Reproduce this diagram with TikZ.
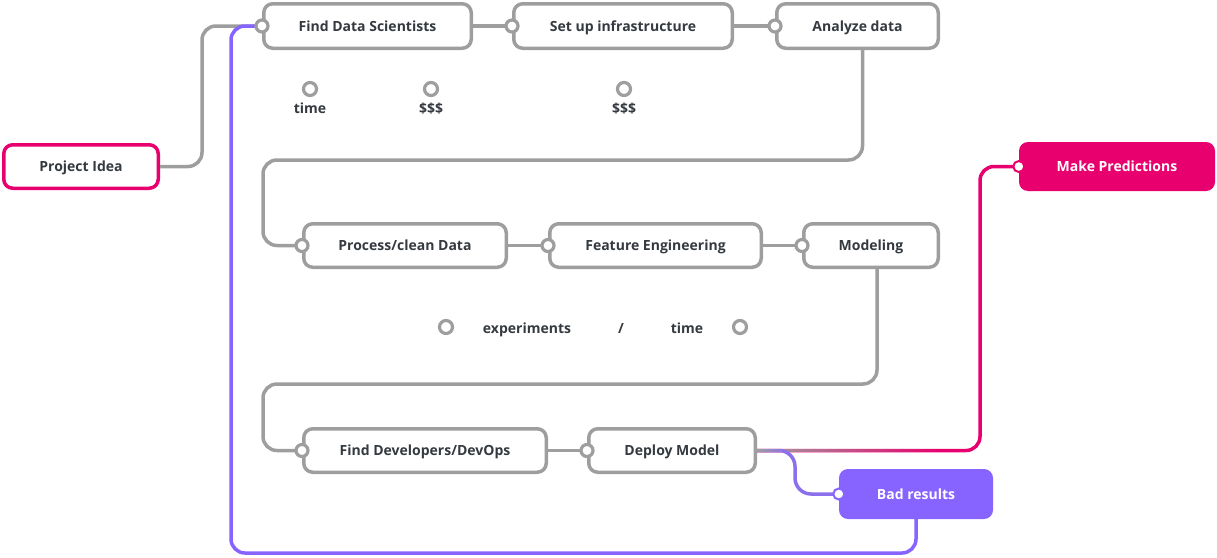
\documentclass[tikz,border=0pt]{standalone}
\usepackage{fontspec}
\setmainfont{Open Sans}
\usetikzlibrary{calc}

\definecolor{linegray}{HTML}{9E9E9E}
\definecolor{ideapink}{HTML}{E8006E}
\definecolor{badpurple}{HTML}{8763FF}
\definecolor{textdark}{HTML}{353A40}

\begin{document}
\begin{tikzpicture}[x=1pt,y=-1pt]
% Box and line styles
\tikzset{
    stepbox/.style={draw=linegray, line width=3.5pt, rounded corners=9pt, fill=white,
        text=textdark, font=\fontsize{14}{16}\selectfont\bfseries, inner sep=0pt,
        text height=10pt, text depth=0pt},
    goalbox/.style={rounded corners=9pt, text=white,
        font=\fontsize{14}{16}\selectfont\bfseries, inner sep=0pt,
        text height=10pt, text depth=0pt},
    link/.style={draw=linegray, line width=3.5pt, rounded corners=14pt},
    port/.style={circle, draw=linegray, fill=white, line width=3.2pt,
        minimum size=12pt, inner sep=0pt},
    goalport/.style={circle, fill=white, line width=2pt, minimum size=11pt, inner sep=0pt},
    cost/.style={text=textdark, font=\fontsize{14}{16}\selectfont\bfseries, inner sep=0pt,
        text height=10pt, text depth=0pt}
}
\useasboundingbox (0,0) rectangle (1217,557);
% Boxes
\node[stepbox, draw=ideapink, minimum width=154.5pt, minimum height=43.5pt] (PI) at (81,166.5){Project Idea};
\node[stepbox, minimum width=207.5pt, minimum height=44.5pt] (FDS) at (367.5,26){Find Data Scientists};
\node[stepbox, minimum width=218.5pt, minimum height=44.5pt] (SUI) at (623,26){Set up infrastructure};
\node[stepbox, minimum width=161.5pt, minimum height=44.5pt] (AD) at (857.5,26){Analyze data};
\node[stepbox, minimum width=202.5pt, minimum height=43.5pt] (PCD) at (405,245.5){Process/clean Data};
\node[stepbox, minimum width=211.5pt, minimum height=43.5pt] (FE) at (655.5,245.5){Feature Engineering};
\node[stepbox, minimum width=134.5pt, minimum height=43.5pt] (MOD) at (871,245.5){Modeling};
\node[stepbox, minimum width=242.5pt, minimum height=43.5pt] (FDD) at (425,450.5){Find Developers/DevOps};
\node[stepbox, minimum width=166.5pt, minimum height=43.5pt] (DM) at (672,450.5){Deploy Model};
\node[goalbox, fill=ideapink, minimum width=196pt, minimum height=49pt] (MP) at (1117,166.5){Make Predictions};
\node[goalbox, fill=badpurple, minimum width=154pt, minimum height=50pt] (BR) at (916,494){Bad results};
% Turning points
\coordinate (turnA) at (263,160);
\coordinate (turnB) at (263,384);
\coordinate (loopB) at (231,553);
% Connection
\draw[link] (PI.east) -- ++(42,0) |- (FDS.west);
\draw[link] (FDS.east) -- (SUI.west);
\draw[link] (SUI.east) -- (AD.west);
\draw[link] ([xshift=5pt]AD.south) |- (turnA) |- (PCD.west);
\draw[link] (PCD.east) -- (FE.west);
\draw[link] (FE.east) -- (MOD.west);
\draw[link] ([xshift=6pt]MOD.south) |- (turnB) |- (FDD.west);
\draw[link] (FDD.east) -- (DM.west);
\draw[link, draw=ideapink] (DM.east) -- ++(223,0) |- (MP.west);
\foreach \i [evaluate=\i as \pct using int(\i*100/30)] in {0,...,30}
    \draw[line width=3.5pt, draw=ideapink!\pct!linegray] ($(DM.east)+(\i*6,0)$) -- ++(6.5,0);
\draw[link, draw=badpurple!80!linegray, rounded corners=16pt] (DM.east) -- ++(38,0) |- (BR.west);
\foreach \i [evaluate=\i as \pct using int(\i*12)] in {0,...,5}
    \draw[line width=3.5pt, draw=badpurple!\pct!linegray] ($(DM.east)+(\i*4,0)$) -- ++(4.5,0);
\draw[link, draw=badpurple] (BR.south) |- (loopB) |- (FDS.west);
% Ports
\foreach \n in {FDS,SUI,AD,PCD,FE,MOD,FDD,DM}
    \node[port] (port-\n) at (\n.west){};
\node[goalport, draw=ideapink] (port-MP) at (MP.west){};
\node[goalport, draw=badpurple] (port-BR) at (BR.west){};
% Costs
\node[port, minimum size=13pt] (markA) at (310,89){};
\node[cost] (timeA) at (310,108){time};
\node[port, minimum size=13pt] (markB) at (431,89){};
\node[cost] (moneyA) at (431,108){\$\$\$};
\node[port, minimum size=13pt] (markC) at (624,89){};
\node[cost] (moneyB) at (624,108){\$\$\$};
\node[port, minimum size=13pt] (markD) at (446,327){};
\node[cost] (expts) at (527,328){experiments};
\node[cost] (slash) at (621,328){/};
\node[cost] (timeB) at (687,328){time};
\node[port, minimum size=13pt] (markE) at (740,327){};
\end{tikzpicture}
\end{document}
